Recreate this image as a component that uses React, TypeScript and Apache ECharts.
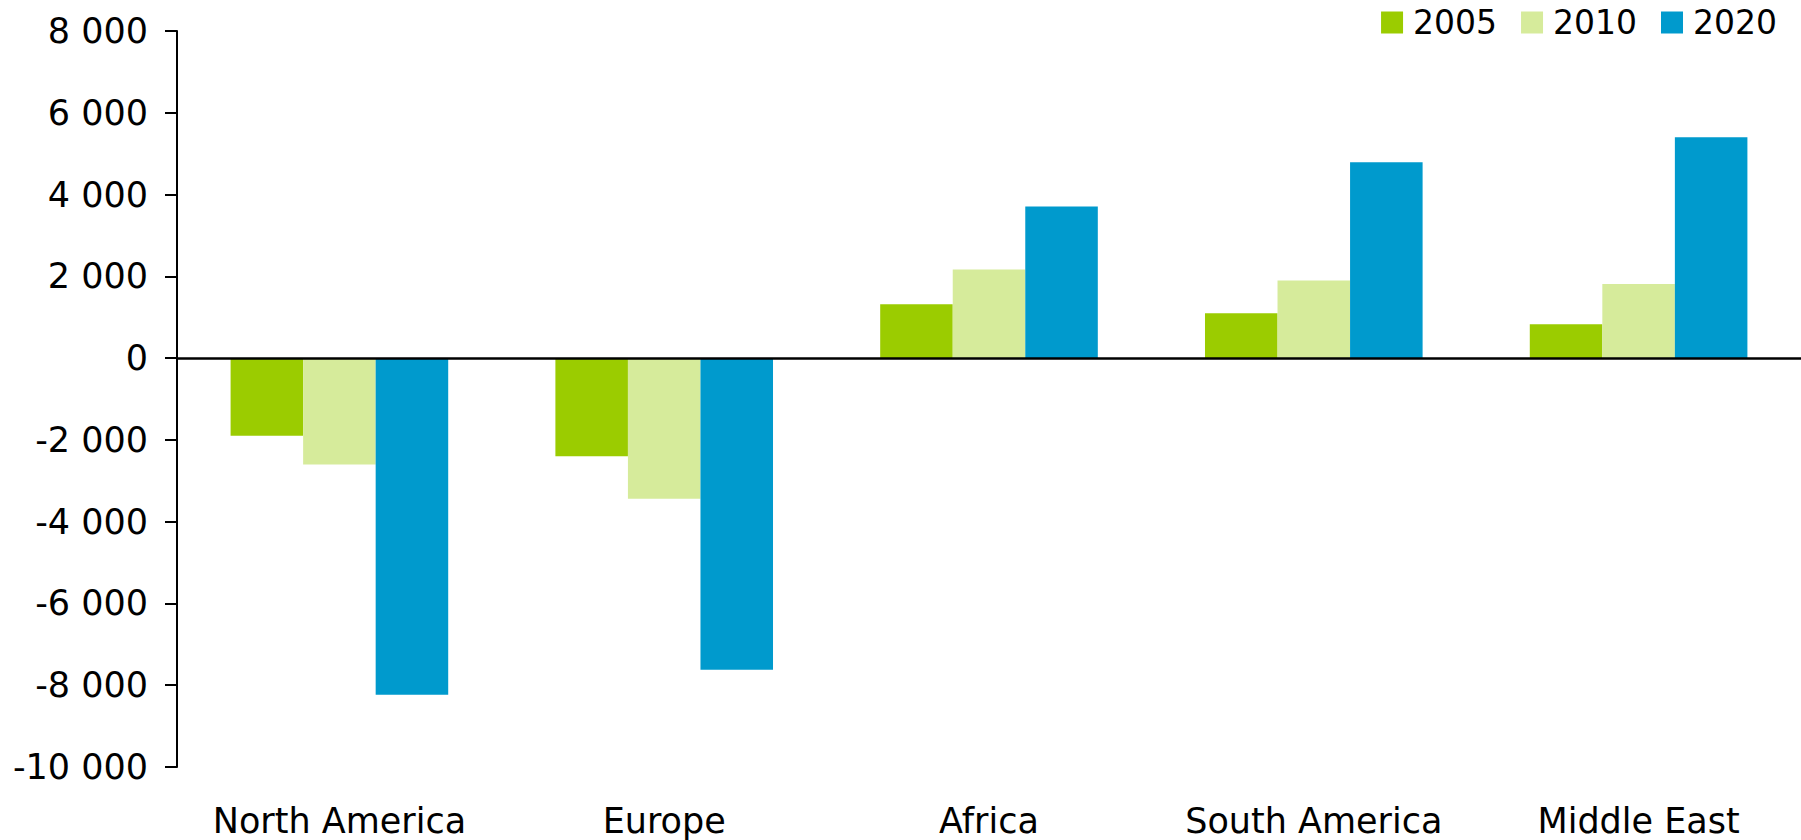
import React, { useEffect, useRef } from "react";
import * as echarts from "echarts";

const categories = ["North America", "Europe", "Africa", "South America", "Middle East"];
const seriesNames = ["2005", "2010", "2020"];
const values2005 = [-1900, -2400, 1320, 1100, 830];
const values2010 = [-2600, -3440, 2170, 1900, 1810];
const values2020 = [-8230, -7620, 3710, 4790, 5400];
const colors = ["#9BCC00", "#D6EB9B", "#009ACD"];

const FONT = "DejaVu Sans";

function fmt(v: number): string {
  const s = Math.abs(v).toString().replace(/\B(?=(\d{3})+(?!\d))/g, " ");
  return (v < 0 ? "-" : "") + s;
}

export default function App() {
  const ref = useRef<HTMLDivElement>(null);
  useEffect(() => {
    if (!ref.current) return;
    const chart = echarts.init(ref.current, null, { renderer: "svg" });
    const data = [values2005, values2010, values2020];
    chart.setOption({
      animation: false,
      backgroundColor: "#ffffff",
      textStyle: { fontFamily: FONT },
      legend: {
        right: 24,
        top: 6,
        padding: 0,
        itemWidth: 22,
        itemHeight: 22,
        itemGap: 24,
        icon: "rect",
        textStyle: { fontFamily: FONT, fontSize: 33, color: "#000", padding: [0, 0, 0, 5] },
        data: seriesNames,
      },
      grid: { left: 177, right: 0, top: 31, bottom: 73, containLabel: false },
      xAxis: {
        type: "category",
        data: categories,
        axisLine: { show: false, onZero: false },
        axisTick: { show: false },
        axisLabel: { color: "#000", fontSize: 35, lineHeight: 34, fontFamily: FONT, margin: 37, interval: 0 },
        splitLine: { show: false },
      },
      yAxis: {
        type: "value",
        min: -10000,
        max: 8000,
        interval: 2000,
        axisLine: { show: true, lineStyle: { color: "#000", width: 2 } },
        axisTick: { show: true, inside: false, length: 12, lineStyle: { color: "#000", width: 2 } },
        axisLabel: { color: "#000", fontSize: 35, fontFamily: FONT, margin: 29, formatter: (v: number) => fmt(v) },
        splitLine: { show: false },
      },
      series: seriesNames.map((name, i) => ({
        name,
        type: "bar",
        data: data[i],
        barGap: 0,
        barCategoryGap: "33%",
        itemStyle: { color: colors[i] },
        ...(i === 0
          ? {
              markLine: {
                silent: true,
                symbol: "none",
                label: { show: false },
                lineStyle: { color: "#000", width: 2.5, type: "solid" },
                data: [{ yAxis: 0 }],
              },
            }
          : {}),
      })),
    });
    return () => chart.dispose();
  }, []);
  return (
    <div
      ref={ref}
      style={{ position: "fixed", left: 0, top: 0, width: 1801, height: 840, background: "#fff" }}
    />
  );
}
